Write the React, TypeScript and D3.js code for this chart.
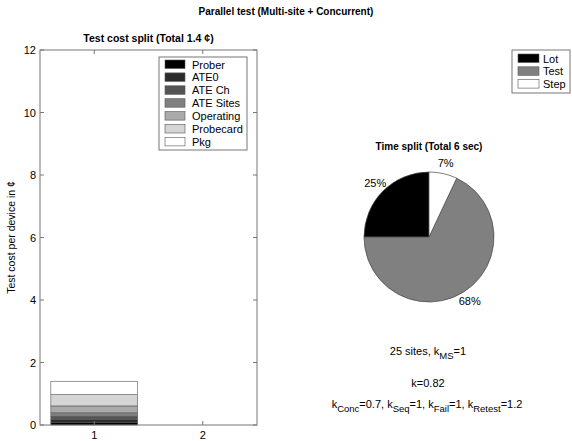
import React from "react";
import * as d3 from "d3";

const costCategories = ["Prober", "ATE0", "ATE Ch", "ATE Sites", "Operating", "Probecard", "Pkg"];
const costValues = [0.09, 0.09, 0.1, 0.11, 0.22, 0.36, 0.43];
const costColors = ["#000000", "#2b2b2b", "#555555", "#808080", "#aaaaaa", "#d5d5d5", "#ffffff"];
const barPositions = [1, 2];
const yTicks = [0, 2, 4, 6, 8, 10, 12];

const timeCategories = ["Lot", "Test", "Step"];
const timeValues = [25, 68, 7];
const timeColors = ["#000000", "#808080", "#ffffff"];

const FONT = "'Liberation Sans', Arial, Helvetica, sans-serif";

export default function App() {
  const W = 572, H = 441;
  const ax = { left: 40, right: 257, top: 50, bottom: 425 };
  const x = d3.scaleLinear().domain([0.5, 2.5]).range([ax.left, ax.right]);
  const y = d3.scaleLinear().domain([0, 12]).range([ax.bottom, ax.top]);
  const barW = x(1.4) - x(0.6);

  let acc = 0;
  const stacks = costValues.map((v, i) => {
    const s = { y0: acc, y1: acc + v, color: costColors[i] };
    acc += v;
    return s;
  });

  const cx = 429, cy = 237, r = 65;
  const pie = d3.pie<number>().sort(null).startAngle(0).endAngle(-2 * Math.PI);
  const arcs = pie(timeValues);
  const arcGen = d3.arc<d3.PieArcDatum<number>>().innerRadius(0).outerRadius(r);
  const axisColor = "#777";
  const tl = 4;
  const subFs = 9.5;
  const subDy = 4;

  return (
    <svg width={W} height={H} style={{ position: "absolute", left: 0, top: 0, background: "#fff" }} fontFamily={FONT}>
      <rect x={0} y={0} width={W} height={H} fill="#fff" />
      <text x={286} y={15} textAnchor="middle" fontSize={10} fontWeight="bold">Parallel test (Multi-site + Concurrent)</text>

      {/* Bar axes */}
      <text x={(ax.left + ax.right) / 2} y={42} textAnchor="middle" fontSize={10.5} fontWeight="bold">Test cost split (Total 1.4 ¢)</text>
      {stacks.map((s, i) => (
        <rect key={i} x={x(barPositions[0]) - barW / 2} y={y(s.y1)} width={barW} height={y(s.y0) - y(s.y1)}
          fill={s.color} stroke="#555" strokeWidth={0.6} />
      ))}
      <rect x={ax.left} y={ax.top} width={ax.right - ax.left} height={ax.bottom - ax.top} fill="none" stroke={axisColor} strokeWidth={1} />
      {yTicks.map((t) => (
        <g key={t}>
          <line x1={ax.left} x2={ax.left + tl} y1={y(t)} y2={y(t)} stroke={axisColor} />
          <line x1={ax.right} x2={ax.right - tl} y1={y(t)} y2={y(t)} stroke={axisColor} />
          <text x={ax.left - 4} y={y(t) + 4} textAnchor="end" fontSize={11}>{t}</text>
        </g>
      ))}
      {barPositions.map((p) => (
        <g key={p}>
          <line x1={x(p)} x2={x(p)} y1={ax.bottom} y2={ax.bottom - tl} stroke={axisColor} />
          <line x1={x(p)} x2={x(p)} y1={ax.top} y2={ax.top + tl} stroke={axisColor} />
          <text x={x(p)} y={ax.bottom + 14} textAnchor="middle" fontSize={11}>{p}</text>
        </g>
      ))}
      <text transform={`translate(15,${(ax.top + ax.bottom) / 2}) rotate(-90)`} textAnchor="middle" fontSize={10.5}>Test cost per device in ¢</text>

      {/* Bar legend */}
      <rect x={159} y={57} width={88} height={93} fill="#fff" stroke={axisColor} />
      {costCategories.map((c, i) => (
        <g key={c}>
          <rect x={165} y={60 + i * 12.9} width={20} height={8.5} fill={costColors[i]} stroke="#555" strokeWidth={0.6} />
          <text x={192} y={68.5 + i * 12.9} fontSize={11}>{c}</text>
        </g>
      ))}

      {/* Pie */}
      <text x={cx} y={150} textAnchor="middle" fontSize={10} fontWeight="bold">Time split (Total 6 sec)</text>
      <g transform={`translate(${cx},${cy})`}>
        {arcs.map((a, i) => (
          <path key={i} d={arcGen(a) || ""} fill={timeColors[i]} stroke="#444" strokeWidth={0.7} />
        ))}
        {arcs.map((a, i) => {
          const mid = (a.startAngle + a.endAngle) / 2;
          const lr = r * 1.17;
          const lx = Math.sin(mid) * lr;
          const ly = -Math.cos(mid) * lr;
          return (
            <text key={"l" + i} x={lx} y={ly + 4} textAnchor="middle" fontSize={11}>{timeValues[i]}%</text>
          );
        })}
      </g>

      {/* Pie legend */}
      <rect x={512} y={50} width={58} height={43} fill="#fff" stroke={axisColor} />
      {timeCategories.map((c, i) => (
        <g key={c}>
          <rect x={518} y={54 + i * 12.8} width={21} height={8.5} fill={timeColors[i]} stroke="#555" strokeWidth={0.6} />
          <text x={543} y={62.5 + i * 12.8} fontSize={11}>{c}</text>
        </g>
      ))}

      {/* Annotations */}
      <text x={428} y={355} textAnchor="middle" fontSize={11}>
        25 sites, k<tspan fontSize={subFs} dy={subDy}>MS</tspan><tspan dy={-subDy}>=1</tspan>
      </text>
      <text x={428} y={387} textAnchor="middle" fontSize={11}>k=0.82</text>
      <text x={427} y={408} textAnchor="middle" fontSize={11}>
        k<tspan fontSize={subFs} dy={subDy}>Conc</tspan><tspan dy={-subDy}>=0.7, k</tspan><tspan fontSize={subFs} dy={subDy}>Seq</tspan><tspan dy={-subDy}>=1, k</tspan><tspan fontSize={subFs} dy={subDy}>Fail</tspan><tspan dy={-subDy}>=1, k</tspan><tspan fontSize={subFs} dy={subDy}>Retest</tspan><tspan dy={-subDy}>=1.2</tspan>
      </text>
    </svg>
  );
}
